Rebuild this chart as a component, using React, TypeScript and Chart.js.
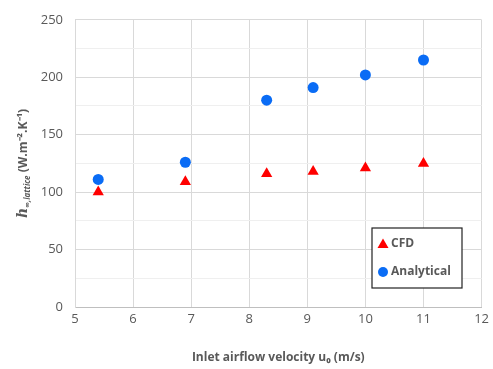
import React, { useEffect, useRef } from "react";
import { Chart, registerables } from "chart.js";

Chart.register(...registerables);

const velocityCFD = [5.4, 6.9, 8.3, 9.1, 10, 11];
const hCFD = [100, 109, 116, 118, 121, 125];
const velocityAnalytical = [5.4, 6.9, 8.3, 9.1, 10, 11];
const hAnalytical = [111, 126, 180, 191, 202, 215];
const seriesNames = ["CFD", "Analytical"];
const xTitle = "Inlet airflow velocity u\u2080 (m/s)";
const yTitleMain = "h";
const yTitleSub = "\u221E,lattice";
const yTitleUnit = " (W.m\u207B\u00B2.K\u207B\u00B9)";

const FONT = "'Open Sans', 'Liberation Sans', sans-serif";
const GRAY = "#595959";
const RED = "#ff0000";
const BLUE = "#0a6cf5";

const overlayPlugin = {
  id: "overlay",
  afterDraw(chart: any) {
    const ctx = chart.ctx;
    const area = chart.chartArea;
    ctx.save();
    // legend box
    const bx = 372, by = 228, bw = 90, bh = 60;
    ctx.fillStyle = "#ffffff";
    ctx.fillRect(bx, by, bw, bh);
    ctx.strokeStyle = "#222222";
    ctx.lineWidth = 1.2;
    ctx.strokeRect(bx, by, bw, bh);
    // CFD
    ctx.fillStyle = RED;
    ctx.beginPath();
    ctx.moveTo(383, 238.5);
    ctx.lineTo(388.5, 248);
    ctx.lineTo(377.5, 248);
    ctx.closePath();
    ctx.fill();
    ctx.fillStyle = GRAY;
    ctx.font = `bold 12px ${FONT}`;
    ctx.textBaseline = "middle";
    ctx.textAlign = "left";
    ctx.fillText(seriesNames[0], 391, 244);
    // Analytical
    ctx.fillStyle = BLUE;
    ctx.beginPath();
    ctx.arc(383, 272, 5, 0, Math.PI * 2);
    ctx.fill();
    ctx.fillStyle = GRAY;
    ctx.fillText(seriesNames[1], 391, 272);

    // y title
    ctx.translate(22, (area.top + area.bottom) / 2);
    ctx.rotate(-Math.PI / 2);
    ctx.font = `bold italic 14px 'DejaVu Serif', serif`;
    const wMain = ctx.measureText(yTitleMain).width;
    ctx.font = `bold italic 8px ${FONT}`;
    const wSub = ctx.measureText(yTitleSub).width;
    ctx.font = `bold 12px ${FONT}`;
    const wUnit = ctx.measureText(yTitleUnit).width;
    let x = -(wMain + wSub + wUnit) / 2;
    ctx.textBaseline = "alphabetic";
    ctx.fillStyle = GRAY;
    ctx.font = `bold italic 14px 'DejaVu Serif', serif`;
    ctx.fillText(yTitleMain, x, 5);
    x += wMain;
    ctx.font = `bold italic 8px ${FONT}`;
    ctx.fillText(yTitleSub, x, 8);
    x += wSub;
    ctx.font = `bold 12px ${FONT}`;
    ctx.fillText(yTitleUnit, x, 5);
    ctx.restore();
  },
};

export default function App() {
  const ref = useRef<HTMLCanvasElement>(null);
  useEffect(() => {
    const chart = new Chart(ref.current!, {
      type: "scatter",
      data: {
        datasets: [
          {
            label: seriesNames[0],
            data: velocityCFD.map((v, i) => ({ x: v, y: hCFD[i] })),
            pointStyle: "triangle",
            pointRadius: 6.5,
            backgroundColor: RED,
            borderColor: RED,
            borderWidth: 0,
          },
          {
            label: seriesNames[1],
            data: velocityAnalytical.map((v, i) => ({ x: v, y: hAnalytical[i] })),
            pointStyle: "circle",
            pointRadius: 5.5,
            backgroundColor: BLUE,
            borderColor: BLUE,
            borderWidth: 0,
          },
        ],
      },
      options: {
        responsive: false,
        animation: false,
        layout: { padding: { top: 13, right: 0, left: 0, bottom: 0 } },
        plugins: { legend: { display: false }, tooltip: { enabled: false } },
        scales: {
          x: {
            type: "linear",
            min: 5,
            max: 12,
            ticks: { stepSize: 1, color: GRAY, font: { family: FONT, size: 13 }, padding: 4 },
            grid: { color: "#d9d9d9", drawTicks: false },
            border: { color: "#bfbfbf" },
            title: {
              display: true,
              text: xTitle,
              color: GRAY,
              font: { family: FONT, size: 12, weight: "bold" },
              padding: { top: 6 },
            },
            afterFit(scale: any) {
              scale.height = 62;
            },
          },
          y: {
            min: 0,
            max: 250,
            ticks: {
              stepSize: 25,
              color: GRAY,
              font: { family: FONT, size: 13 },
              padding: 12,
              callback: (v: any) => (v % 50 === 0 ? String(v) : ""),
            },
            grid: {
              color: (c: any) => (c.tick && c.tick.value % 50 === 0 ? "#d9d9d9" : "#efefef"),
              drawTicks: false,
            },
            border: { color: "#d9d9d9" },
            afterFit(scale: any) {
              scale.width = 75;
            },
          },
        },
      },
      plugins: [overlayPlugin],
    });
    return () => chart.destroy();
  }, []);
  return (
    <div style={{ position: "fixed", left: 0, top: 0, width: 493, height: 369, background: "#fff" }}>
      <canvas ref={ref} width={493} height={369} />
    </div>
  );
}
